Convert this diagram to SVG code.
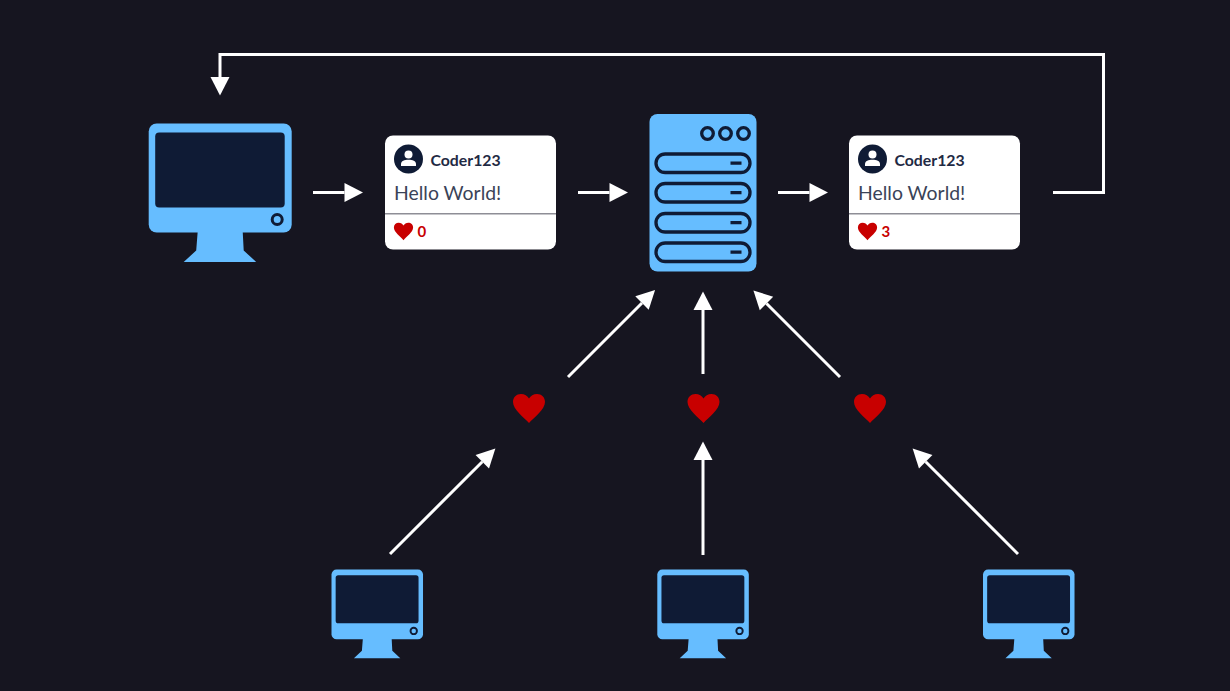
<svg xmlns="http://www.w3.org/2000/svg" width="1230" height="691" viewBox="0 0 1230 691">
<style>
.name{font:700 15.800px Lato,"Liberation Sans",sans-serif;fill:#1f2a44}
.msg{font:400 19.400px Lato,"Liberation Sans",sans-serif;fill:#3a4358}
.count{font:700 15px Lato,"Liberation Sans",sans-serif;fill:#c80000}
.wire{fill:none;stroke:#fff;stroke-width:3}
.blue{fill:#66bdff}
.dark{fill:#0f1b35}
.ring{fill:none;stroke:#0f1b35;stroke-width:3.300}
.heart{fill:#c80000}
</style>
<defs>
<marker id="arrow" markerUnits="userSpaceOnUse" markerWidth="20" markerHeight="20" refX="0" refY="9.500" orient="auto" overflow="visible">
<path d="M0 0L18.500 9.500L0 19Z" fill="#fff"/>
</marker>
<path id="heartShape" d="M0 14.500C-5 9-16 1-16-6.500C-16-11.500-12.500-14.500-8-14.500C-4.500-14.500-1.500-12.500 0-10C1.500-12.500 4.500-14.500 8-14.500C12.500-14.500 16-11.500 16-6.500C16 1 5 9 0 14.500Z"/>
<g id="monitor">
<rect class="blue" x="0" y="0" width="143" height="109" rx="8"/>
<rect class="dark" x="6.500" y="9" width="129.500" height="75" rx="4"/>
<circle cx="128.500" cy="96" r="5" fill="none" stroke="#0f1b35" stroke-width="3"/>
<path class="blue" d="M49 108H94L95 127L107.500 138.500H35L47.500 127Z"/>
</g>
<g id="card">
<rect x="0" y="0" width="171" height="114" rx="8" fill="#fff"/>
<circle class="dark" cx="23.500" cy="23.500" r="14.500"/>
<circle cx="23.500" cy="19" r="4" fill="#fff"/>
<path d="M16 30.500V28.500C16 25.500 19.500 24.300 23.500 24.300C27.500 24.300 31 25.500 31 28.500V30.500Z" fill="#fff"/>
<text class="name" x="45.500" y="30">Coder123</text>
<text class="msg" x="9" y="64.500">Hello World!</text>
<rect x="0" y="77.500" width="171" height="1.500" fill="#8e8e96"/>
</g>
</defs>
<rect width="1230" height="691" fill="#161520"/>
<g id="connectors">
<path class="wire" d="M1053 192.500H1103.500V54.500H220V77" marker-end="url(#arrow)"/>
<path class="wire" d="M313 192.500H344.500" marker-end="url(#arrow)"/>
<path class="wire" d="M578 192.500H609.500" marker-end="url(#arrow)"/>
<path class="wire" d="M778 192.500H809.500" marker-end="url(#arrow)"/>
<path class="wire" d="M568 377L642 303" marker-end="url(#arrow)"/>
<path class="wire" d="M703 374V310" marker-end="url(#arrow)"/>
<path class="wire" d="M840 377L766.500 303.500" marker-end="url(#arrow)"/>
<path class="wire" d="M390 554L482.300 461.700" marker-end="url(#arrow)"/>
<path class="wire" d="M703 555V460" marker-end="url(#arrow)"/>
<path class="wire" d="M1018 554L925.700 461.700" marker-end="url(#arrow)"/>
</g>
<g id="monitor-main" transform="translate(148.700 123.500)"><use href="#monitor"/></g>
<g id="card-before" transform="translate(385 135.500)"><use href="#card"/>
<use href="#heartShape" class="heart" transform="translate(18.500 96) scale(.6)"/>
<text class="count" x="32.500" y="101.500">0</text></g>
<g id="server" transform="translate(649.500 114)">
<rect class="blue" x="0" y="0" width="107" height="157.500" rx="8"/>
<circle class="ring" cx="58" cy="19.500" r="5.800"/>
<circle class="ring" cx="76" cy="19.500" r="5.800"/>
<circle class="ring" cx="94" cy="19.500" r="5.800"/>
<rect class="ring" x="6.500" y="40" width="94" height="18.500" rx="9.200"/>
<rect class="ring" x="6.500" y="69.500" width="94" height="18.500" rx="9.200"/>
<rect class="ring" x="6.500" y="99.500" width="94" height="18.500" rx="9.200"/>
<rect class="ring" x="6.500" y="129" width="94" height="18.500" rx="9.200"/>
<path class="ring" d="M81 49.200H92M81 78.700H92M81 108.700H92M81 138.200H92"/>
</g>
<g id="card-after" transform="translate(849 135.500)"><use href="#card"/>
<use href="#heartShape" class="heart" transform="translate(18.500 96) scale(.6)"/>
<text class="count" x="32.500" y="101.500">3</text></g>
<g id="heart-left"><use href="#heartShape" class="heart" transform="translate(529 408.500)"/></g>
<g id="heart-middle"><use href="#heartShape" class="heart" transform="translate(703.500 408.500)"/></g>
<g id="heart-right"><use href="#heartShape" class="heart" transform="translate(870 408.500)"/></g>
<g id="monitor-left" transform="translate(331.500 569.500) scale(.64)"><use href="#monitor"/></g>
<g id="monitor-middle" transform="translate(657.300 569.500) scale(.64)"><use href="#monitor"/></g>
<g id="monitor-right" transform="translate(983 569.500) scale(.64)"><use href="#monitor"/></g>
</svg>
